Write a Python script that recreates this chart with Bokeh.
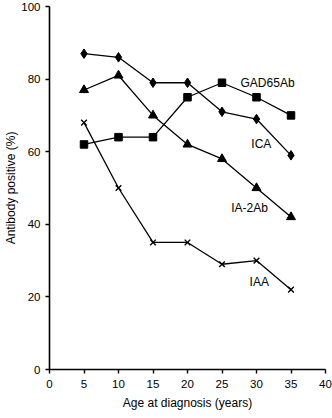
from bokeh.plotting import figure
from bokeh.models import ColumnDataSource, FixedTicker, Range1d
from bokeh.core.properties import value
from bokeh.embed import file_html
from bokeh.resources import INLINE

age = [5, 10, 15, 20, 25, 30, 35]
ica = [87, 86, 79, 79, 71, 69, 59]
ia2ab = [77, 81, 70, 62, 58, 50, 42]
gad65ab = [62, 64, 64, 75, 79, 75, 70]
iaa = [68, 50, 35, 35, 29, 30, 22]

label_names = ["GAD65Ab", "ICA", "IA-2Ab", "IAA"]
label_x = [31.6, 30.7, 29.0, 30.4]
label_y = [79.0, 62.0, 44.6, 24.2]

x_ticks = [0, 5, 10, 15, 20, 25, 30, 35, 40]
y_ticks = [0, 20, 40, 60, 80, 100]

FONT = "Liberation Sans"

p = figure(width=332, height=418, output_backend="svg", toolbar_location=None,
           x_range=Range1d(0, 40), y_range=Range1d(0, 100),
           min_border_left=49, min_border_right=7, min_border_top=6, min_border_bottom=49)
p.outline_line_color = None
p.grid.visible = False
p.background_fill_color = "white"

for ax in (p.xaxis[0], p.yaxis[0]):
    ax.axis_line_color = "black"
    ax.axis_line_width = 1.6
    ax.major_tick_line_color = "black"
    ax.major_tick_line_width = 1.4
    ax.major_tick_in = 0
    ax.major_tick_out = 4
    ax.minor_tick_line_color = None
    ax.major_label_text_font = FONT
    ax.major_label_text_font_size = "11.5px"
    ax.major_label_text_color = "black"
    ax.axis_label_text_font = FONT
    ax.axis_label_text_font_size = "12px"
    ax.axis_label_text_font_style = "normal"
    ax.axis_label_text_color = "black"

p.xaxis.ticker = FixedTicker(ticks=x_ticks)
p.yaxis.ticker = FixedTicker(ticks=y_ticks)
p.xaxis.axis_label = "Age at diagnosis (years)"
p.yaxis.axis_label = "Antibody positive (%)"
p.xaxis.major_label_standoff = 6
p.xaxis.axis_label_standoff = 5
p.yaxis.major_label_standoff = 5
p.yaxis.axis_label_standoff = 0

src = ColumnDataSource(dict(age=age, ica=ica, ia2ab=ia2ab, gad=gad65ab, iaa=iaa))

lw = 1.3
p.line("age", "ica", source=src, line_color="black", line_width=lw)
p.scatter("age", "ica", source=src, marker="diamond", size=9.5, fill_color="black", line_color="black")

p.line("age", "ia2ab", source=src, line_color="black", line_width=lw)
p.scatter("age", "ia2ab", source=src, marker="triangle", size=9, fill_color="black", line_color="black")

p.line("age", "gad", source=src, line_color="black", line_width=lw)
p.scatter("age", "gad", source=src, marker="square", size=7.5, fill_color="black", line_color="black")

p.line("age", "iaa", source=src, line_color="black", line_width=lw)
p.scatter("age", "iaa", source=src, marker="x", size=8, line_color="black", line_width=1.4)

lsrc = ColumnDataSource(dict(x=label_x, y=label_y, t=label_names))
p.text("x", "y", text="t", source=lsrc, text_font=value(FONT), text_font_size="12px",
       text_align="center", text_baseline="middle", text_color="black")

open("out.html", "w").write(file_html(p, INLINE))
